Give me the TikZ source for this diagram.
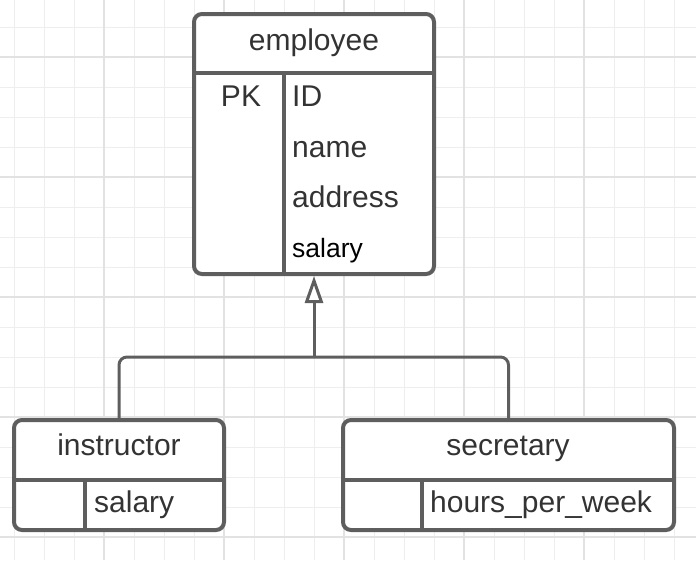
\documentclass[tikz,border=0pt]{standalone}
\usepackage{fontspec}
\setmainfont{Liberation Sans}
\usetikzlibrary{arrows.meta}

\definecolor{edge}{HTML}{5E5E5E}
\definecolor{ink}{HTML}{333333}
\definecolor{gridminor}{HTML}{EEEEEE}
\definecolor{gridmajor}{HTML}{E2E2E2}

\begin{document}
\begin{tikzpicture}[
    x=1pt, y=-1pt,
    entity/.style = {draw=edge, line width=4pt, fill=white, rounded corners=8pt,
                     inner sep=0pt, outer sep=0pt},
    part/.style   = {draw=edge, line width=4pt},
    link/.style   = {draw=edge, line width=3pt, rounded corners=8pt},
    title/.style  = {font=\fontsize{30}{35}\selectfont, text=ink, anchor=base,
                     inner sep=0pt},
    attr/.style   = {title, anchor=base west},
    minor/.style  = {gridminor, line width=1pt},
    major/.style  = {gridmajor, line width=1.2pt}
]
\useasboundingbox (0,0) rectangle (696,560);

% Background grid
\foreach \x in {14,44,...,674}
    \draw[minor] (\x,0) -- (\x,560);
\foreach \y in {27,57,...,537}
    \draw[minor] (0,\y) -- (696,\y);
\foreach \x in {104,224,...,584}
    \draw[major] (\x,0) -- (\x,560);
\foreach \y in {57,177,...,537}
    \draw[major] (0,\y) -- (696,\y);

% Entities
\node[entity, minimum width=240pt, minimum height=260pt] (employee)   at (314,144) {};
\node[entity, minimum width=210pt, minimum height=110pt] (instructor) at (119,475) {};
\node[entity, minimum width=331pt, minimum height=110pt] (secretary)  at (508.5,475) {};

% Header rules and key columns
\draw[part] ([yshift=-59pt]employee.north west) -- ([yshift=-59pt]employee.north east);
\draw[part] ([xshift=90pt, yshift=-59pt]employee.north west) -- ([xshift=90pt]employee.south west);
\draw[part] ([yshift=-60pt]instructor.north west) -- ([yshift=-60pt]instructor.north east);
\draw[part] ([xshift=71pt, yshift=-60pt]instructor.north west) -- ([xshift=71pt]instructor.south west);
\draw[part] ([yshift=-60pt]secretary.north west) -- ([yshift=-60pt]secretary.north east);
\draw[part] ([xshift=79pt, yshift=-60pt]secretary.north west) -- ([xshift=79pt]secretary.south west);

% Texts
\node[title] (empname) at (314,50) {employee};
\node[title] (pk)      at (241,106) {PK};
\foreach \n/\lab/\y in {id/ID/106, name/name/157, address/address/207}
    \node[attr] (\n) at (292,\y) {\lab};
\node[attr, text=black, font=\fontsize{26.5}{31}\selectfont] (salary) at (292,257) {salary};

\node[title] (insname)   at (119,455) {instructor};
\node[attr]  (inssalary) at (94,512) {salary};
\node[title] (secname)   at (508,455) {secretary};
\node[attr]  (sechours)  at (430,512) {hours\_per\_week};

% Generalisation
\coordinate (fork) at (314,357);
\draw[link] (instructor.north) |- (fork) -| (secretary.north);
\draw[link, -{Triangle[fill=white, length=27pt, width=18pt]}, shorten >=2pt]
    (fork) -- (employee.south);

\end{tikzpicture}
\end{document}
